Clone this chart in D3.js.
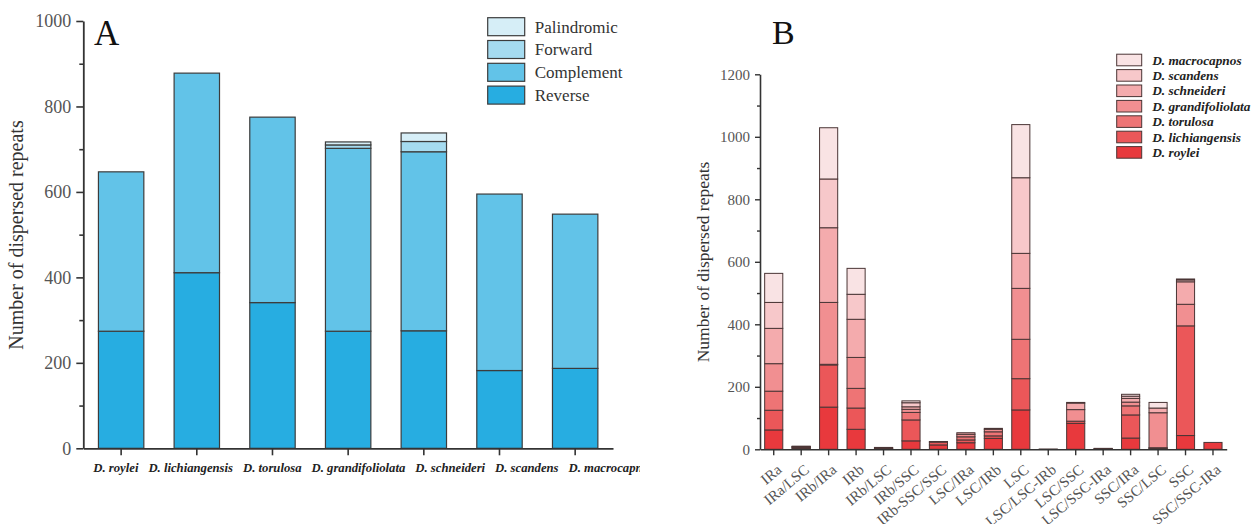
<!DOCTYPE html>
<html lang="en">

<head>
    <meta charset="utf-8">
    <title>Dispersed repeats</title>
    <script src="https://d3js.org/d3.v7.min.js"></script>
    <style>
        body { margin: 0; background: #fff; }
        text { font-family: "Liberation Serif", "Times New Roman", serif; }
    </style>
</head>

<body>
    <svg width="1255" height="524"></svg>

    <script>
        // Panel A: repeat types per species
        const species = ["D. roylei", "D. lichiangensis", "D. torulosa", "D. grandifoliolata",
            "D. schneideri", "D. scandens", "D. macrocapnos"];
        const repeatTypes = ["Reverse", "Complement", "Forward", "Palindromic"];
        const reverse = [274, 411, 341, 274, 275, 182, 187];
        const complement = [373, 467, 434, 428, 419, 413, 361];
        const forward = [0, 0, 0, 8, 24, 0, 0];
        const palindromic = [0, 0, 0, 7, 20, 0, 0];
        const yTicksA = [0, 200, 400, 600, 800, 1000];

        // Panel B: location of repeats per species
        const regions = ["IRa", "IRa/LSC", "IRb/IRa", "IRb", "IRb/LSC", "IRb/SSC", "IRb-SSC/SSC",
            "LSC/IRa", "LSC/IRb", "LSC", "LSC/LSC-IRb", "LSC/SSC", "LSC/SSC-IRa",
            "SSC/IRa", "SSC/LSC", "SSC", "SSC/SSC-IRa"];
        const roylei = [62, 2, 135, 64, 1, 27, 14, 21, 35, 126, 0, 83, 1, 36, 2, 44, 22];
        const lichiangensis = [63, 2, 135, 68, 1, 67, 9, 9, 8, 100, 0, 7, 1, 74, 2, 351, 0];
        const torulosa = [61, 2, 2, 63, 1, 24, 2, 10, 13, 126, 0, 0, 0, 29, 1, 0, 0];
        const grandifoliolata = [88, 1, 198, 99, 1, 10, 0, 8, 8, 163, 1, 37, 1, 12, 112, 69, 0];
        const schneideri = [113, 1, 239, 122, 1, 8, 0, 5, 3, 112, 0, 21, 0, 12, 15, 72, 0];
        const scandens = [83, 1, 156, 80, 1, 13, 0, 0, 0, 242, 0, 2, 0, 7, 0, 6, 0];
        const macrocapnos = [93, 1, 164, 83, 0, 6, 0, 0, 0, 170, 0, 0, 0, 6, 18, 3, 0];
        const yTicksB = [0, 200, 400, 600, 800, 1000, 1200];

        const blues = ["#27ade1", "#62c3e8", "#a5dbf0", "#d6eef7"];
        const reds = ["#e8393d", "#eb5759", "#ee7475", "#f18f91", "#f4abad", "#f7c8ca", "#f9e3e4"];

        const svg = d3.select("svg");
        const fmt = d3.format("d");

        // ---------- Panel A ----------
        const tableA = species.map((s, i) => ({
            name: s, Reverse: reverse[i], Complement: complement[i],
            Forward: forward[i], Palindromic: palindromic[i]
        }));
        const stackA = d3.stack().keys(repeatTypes)(tableA);

        svg.append("clipPath").attr("id", "clipA")
            .append("rect").attr("x", 0).attr("y", 0).attr("width", 640).attr("height", 524);
        const gA = svg.append("g").attr("clip-path", "url(#clipA)");

        const xA = d3.scaleBand().domain(species).range([83.3, 613])
            .paddingInner(0.4).paddingOuter(0.2);
        const yA = d3.scaleLinear().domain([0, 1000]).range([448.3, 21]);
        const colorA = d3.scaleOrdinal().domain(repeatTypes).range(blues);

        gA.append("g")
            .selectAll("g")
            .data(stackA)
            .join("g")
            .attr("fill", d => colorA(d.key))
            .selectAll("rect")
            .data(d => d.filter(p => p[1] > p[0]))
            .join("rect")
            .attr("x", d => xA(d.data.name))
            .attr("width", xA.bandwidth())
            .attr("y", d => yA(d[1]))
            .attr("height", d => yA(d[0]) - yA(d[1]))
            .attr("stroke", "#3c3c3c")
            .attr("stroke-width", 1.2);

        // minor ticks
        gA.append("g")
            .attr("transform", "translate(83.3,0)")
            .call(d3.axisLeft(yA).tickValues(d3.range(100, 1000, 200)).tickSize(4).tickFormat(""))
            .call(g => g.select(".domain").remove())
            .call(g => g.selectAll("line").attr("stroke", "#333").attr("stroke-width", 1.6));

        gA.append("g")
            .attr("transform", "translate(83.3,0)")
            .call(d3.axisLeft(yA).tickValues(yTicksA).tickFormat(fmt)
                .tickSize(7).tickSizeOuter(0).tickPadding(5))
            .call(g => g.select(".domain").attr("stroke", "#333").attr("stroke-width", 1.8))
            .call(g => g.selectAll("line").attr("stroke", "#333").attr("stroke-width", 1.6))
            .call(g => g.selectAll("text").attr("font-size", 18).attr("fill", "#555")
                .style("font-family", "'Liberation Serif', serif"));

        const xAxisA = gA.append("g")
            .attr("transform", "translate(0,448.3)")
            .call(d3.axisBottom(xA).tickSize(7).tickSizeOuter(0).tickPadding(8))
            .call(g => g.select(".domain").attr("stroke", "#333").attr("stroke-width", 1.8))
            .call(g => g.selectAll("line").attr("stroke", "#333").attr("stroke-width", 1.6))
            .call(g => g.selectAll("text").attr("font-size", 12.7).attr("font-weight", "bold")
                .attr("font-style", "italic").attr("fill", "#222")
                .style("font-family", "'Liberation Serif', serif"));

        // the species names run as one line under the axis, a fixed gap apart
        let cursor = 83.3 + 10;
        xAxisA.selectAll(".tick text").each(function (d) {
            const w = this.getComputedTextLength();
            const centre = xA(d) + xA.bandwidth() / 2;
            d3.select(this).attr("text-anchor", "start").attr("x", cursor - centre);
            cursor += w + 10;
        });

        gA.append("text")
            .attr("transform", "translate(23,235) rotate(-90)")
            .attr("text-anchor", "middle")
            .attr("font-size", 20)
            .attr("fill", "#333")
            .text("Number of dispersed repeats");

        gA.append("text")
            .attr("x", 94).attr("y", 45)
            .attr("font-size", 35)
            .attr("fill", "#111")
            .text("A");

        const legA = gA.append("g")
            .selectAll("g")
            .data(repeatTypes.slice().reverse())
            .join("g")
            .attr("transform", (d, i) => `translate(487.7,${17.7 + i * 22.8})`);
        legA.append("rect")
            .attr("width", 37).attr("height", 18)
            .attr("fill", d => colorA(d))
            .attr("stroke", "#3c3c3c").attr("stroke-width", 1.2);
        legA.append("text")
            .attr("x", 47).attr("y", 9).attr("dy", "0.35em")
            .attr("font-size", 17).attr("fill", "#333")
            .text(d => d);

        // ---------- Panel B ----------
        const speciesKeys = ["D. roylei", "D. lichiangensis", "D. torulosa", "D. grandifoliolata",
            "D. schneideri", "D. scandens", "D. macrocapnos"];
        const seriesB = [roylei, lichiangensis, torulosa, grandifoliolata, schneideri, scandens, macrocapnos];
        const tableB = regions.map((r, i) => {
            const row = { name: r };
            speciesKeys.forEach((k, j) => row[k] = seriesB[j][i]);
            return row;
        });
        const stackB = d3.stack().keys(speciesKeys)(tableB);

        const gB = svg.append("g");
        const xB = d3.scaleBand().domain(regions).range([760, 1226.7])
            .paddingInner(0.34).paddingOuter(0.17);
        const yB = d3.scaleLinear().domain([0, 1200]).range([449.3, 74.3]);
        const colorB = d3.scaleOrdinal().domain(speciesKeys).range(reds);

        gB.append("g")
            .selectAll("g")
            .data(stackB)
            .join("g")
            .attr("fill", d => colorB(d.key))
            .selectAll("rect")
            .data(d => d.filter(p => p[1] > p[0]))
            .join("rect")
            .attr("x", d => xB(d.data.name))
            .attr("width", xB.bandwidth())
            .attr("y", d => yB(d[1]))
            .attr("height", d => yB(d[0]) - yB(d[1]))
            .attr("stroke", "#4a3535")
            .attr("stroke-width", 1);

        gB.append("g")
            .attr("transform", "translate(760,0)")
            .call(d3.axisLeft(yB).tickValues(d3.range(100, 1200, 200)).tickSize(3).tickFormat(""))
            .call(g => g.select(".domain").remove())
            .call(g => g.selectAll("line").attr("stroke", "#333").attr("stroke-width", 1.4));

        gB.append("g")
            .attr("transform", "translate(760,0)")
            .call(d3.axisLeft(yB).tickValues(yTicksB).tickFormat(fmt)
                .tickSize(5).tickSizeOuter(0).tickPadding(5))
            .call(g => g.select(".domain").attr("stroke", "#333").attr("stroke-width", 1.6))
            .call(g => g.selectAll("line").attr("stroke", "#333").attr("stroke-width", 1.4))
            .call(g => g.selectAll("text").attr("font-size", 15).attr("fill", "#555")
                .style("font-family", "'Liberation Serif', serif"));

        gB.append("g")
            .attr("transform", "translate(0,449.3)")
            .call(d3.axisBottom(xB).tickSize(6).tickSizeOuter(0))
            .call(g => g.select(".domain").attr("stroke", "#333").attr("stroke-width", 1.6))
            .call(g => g.selectAll("line").attr("stroke", "#333").attr("stroke-width", 1.4))
            .call(g => g.selectAll("text")
                .attr("font-size", 15).attr("fill", "#555")
                .attr("text-anchor", "end")
                .attr("dy", 0).attr("y", 0)
                .attr("transform", "translate(9,22) rotate(-40)")
                .style("font-family", "'Liberation Serif', serif"));

        gB.append("text")
            .attr("transform", "translate(709,262) rotate(-90)")
            .attr("text-anchor", "middle")
            .attr("font-size", 17.5)
            .attr("fill", "#333")
            .text("Number of dispersed repeats");

        gB.append("text")
            .attr("x", 772).attr("y", 44)
            .attr("font-size", 34)
            .attr("fill", "#111")
            .text("B");

        const legB = gB.append("g")
            .selectAll("g")
            .data(speciesKeys.slice().reverse())
            .join("g")
            .attr("transform", (d, i) => `translate(1116.7,${60 + i * 15.4})`);
        legB.append("rect")
            .attr("y", -5.8)
            .attr("width", 25).attr("height", 11.6)
            .attr("fill", d => colorB(d))
            .attr("stroke", "#4a3535").attr("stroke-width", 1);
        legB.append("text")
            .attr("x", 35.5).attr("dy", "0.35em")
            .attr("font-size", 13.3).attr("font-weight", "bold").attr("font-style", "italic")
            .attr("fill", "#222")
            .text(d => d);
    </script>
</body>

</html>
